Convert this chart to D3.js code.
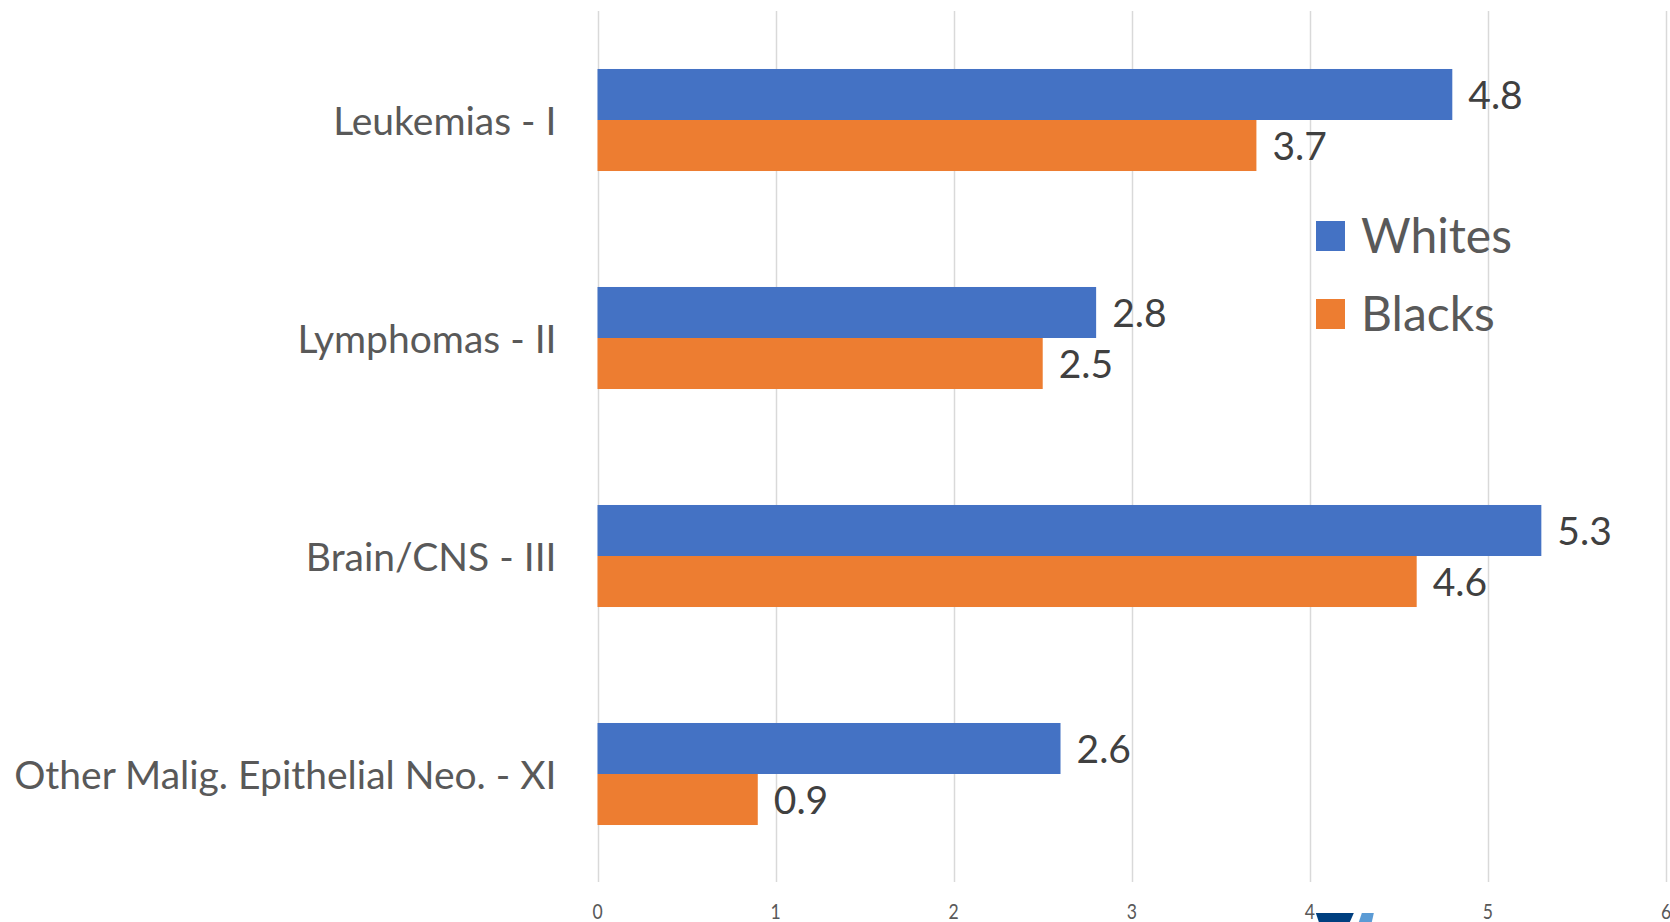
<!DOCTYPE html>
<html><head><meta charset="utf-8">
<script src="https://cdn.jsdelivr.net/npm/d3@7/dist/d3.min.js"></script>
<style>body{margin:0;background:#fff;overflow:hidden}svg{display:block}</style>
</head><body>
<svg id="chart" width="1670" height="922"></svg>
<script>
const categories = ["Leukemias - I", "Lymphomas - II", "Brain/CNS - III", "Other Malig. Epithelial Neo. - XI"];
const seriesNames = ["Whites", "Blacks"];
const whites = [4.8, 2.8, 5.3, 2.6];
const blacks = [3.7, 2.5, 4.6, 0.9];
const tickValues = [0, 1, 2, 3, 4, 5, 6];
const colors = ["#4472C4", "#ED7D31"];

(function () {
const svg = d3.select("#chart");
const font = "Lato, 'Open Sans', sans-serif";
const plotLeft = 597.5, plotRight = 1666, plotTop = 11, plotBottom = 883;

const x = d3.scaleLinear().domain([0, 6]).range([plotLeft, plotRight]);
const y = d3.scaleBand().domain(categories).range([plotTop, plotBottom]).paddingInner(0.532).paddingOuter(0.266);
const ySub = d3.scaleBand().domain(seriesNames).range([0, y.bandwidth()]);

// gridlines
svg.append("g").selectAll("line").data(tickValues).join("line")
  .attr("x1", d => Math.round(x(d)) + 0.5).attr("x2", d => Math.round(x(d)) + 0.5)
  .attr("y1", plotTop).attr("y2", plotBottom - 1)
  .attr("stroke", "#D9D9D9").attr("stroke-width", 1.5);

// x tick labels
svg.append("g").selectAll("text").data(tickValues).join("text")
  .attr("transform", d => `translate(${x(d)},919) scale(0.8,1)`)
  .attr("text-anchor", "middle")
  .attr("font-family", font).attr("font-size", 22).attr("fill", "#595959")
  .text(d => d);

// bars
const data = categories.map((c, i) => ({cat: c, vals: [whites[i], blacks[i]]}));
const groups = svg.append("g").selectAll("g").data(data).join("g")
  .attr("transform", d => `translate(0,${y(d.cat)})`);
groups.selectAll("rect").data(d => d.vals.map((v, j) => ({v, s: seriesNames[j], j}))).join("rect")
  .attr("x", x(0)).attr("y", d => ySub(d.s))
  .attr("width", d => x(d.v) - x(0)).attr("height", ySub.bandwidth())
  .attr("fill", d => colors[d.j]);
groups.selectAll("text.val").data(d => d.vals.map((v, j) => ({v, s: seriesNames[j], j}))).join("text")
  .attr("class", "val")
  .attr("x", d => x(d.v) + 16).attr("y", d => ySub(d.s) + ySub.bandwidth() / 2)
  .attr("dy", "0.38em")
  .attr("font-family", font).attr("font-size", 39).attr("fill", "#404040")
  .text(d => d3.format(".1f")(d.v));

// category labels
svg.append("g").selectAll("text").data(categories).join("text")
  .attr("x", plotLeft - 41).attr("y", d => y(d) + y.bandwidth() / 2)
  .attr("dy", "0.38em").attr("text-anchor", "end")
  .attr("font-family", font).attr("font-size", 39).attr("fill", "#595959")
  .text(d => d);

// legend
const legend = svg.append("g").attr("transform", "translate(1316,221)");
const li = legend.selectAll("g").data(seriesNames).join("g")
  .attr("transform", (d, i) => `translate(0,${i * 78})`);
li.append("rect").attr("width", 29).attr("height", 30).attr("fill", (d, i) => colors[i]);
li.append("text").attr("x", 45).attr("y", 15).attr("dy", "0.36em")
  .attr("font-family", font).attr("font-size", 48).attr("fill", "#595959")
  .text(d => d);

// partial logo fragment at bottom
const lx = x(4);
svg.append("path").attr("d", `M${lx+6},913 L${lx+44},913 L${lx+40},922 L${lx+9},922 Z`).attr("fill", "#003F7F");
svg.append("path").attr("d", `M${lx+52},913 L${lx+64},913 L${lx+62},922 L${lx+49},922 Z`).attr("fill", "#5B9BD5");
})();
</script>
</body></html>
